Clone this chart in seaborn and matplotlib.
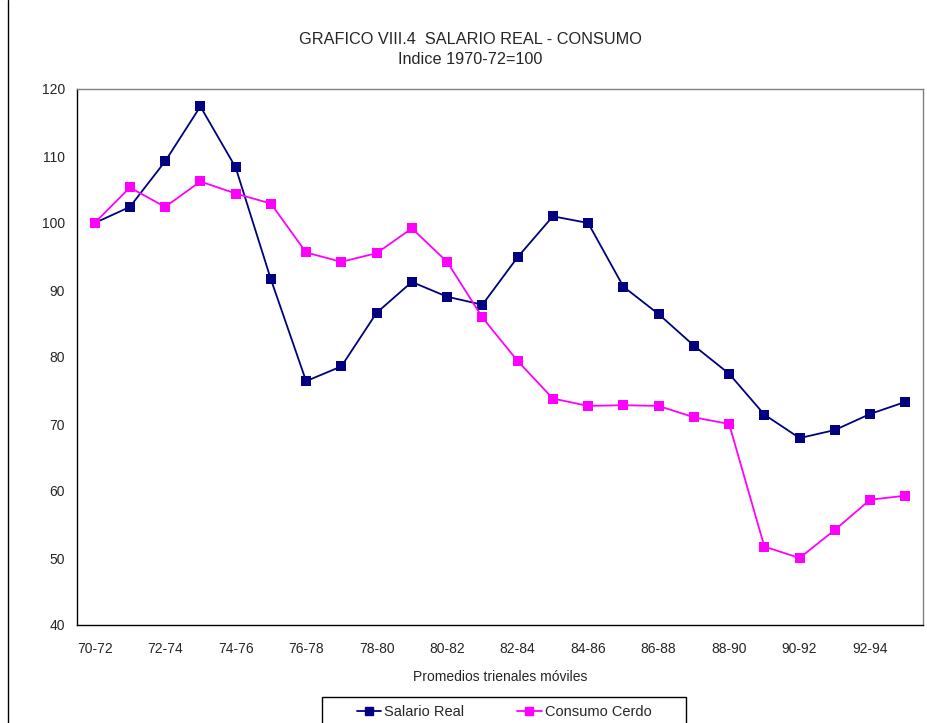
import pandas as pd
import matplotlib.pyplot as plt
import matplotlib.ticker as mticker
import seaborn as sns

# Data
periodos = ["70-72", "71-73", "72-74", "73-75", "74-76", "75-77", "76-78", "77-79",
            "78-80", "79-81", "80-82", "81-83", "82-84", "83-85", "84-86", "85-87",
            "86-88", "87-89", "88-90", "89-91", "90-92", "91-93", "92-94", "93-95"]
salario_real = [100.0, 102.4, 109.2, 117.4, 108.3, 91.6, 76.4, 78.6,
                86.6, 91.2, 89.0, 87.8, 94.9, 101.0, 100.0, 90.5,
                86.4, 81.7, 77.5, 71.4, 67.9, 69.1, 71.5, 73.3]
consumo_cerdo = [100.0, 105.3, 102.4, 106.2, 104.4, 102.9, 95.6, 94.2,
                 95.5, 99.2, 94.2, 85.9, 79.4, 73.8, 72.7, 72.8,
                 72.7, 71.0, 70.0, 51.7, 50.0, 54.2, 58.7, 59.3]
series_names = ["Salario Real", "Consumo Cerdo"]
colors = ["#000080", "#FF00FF"]

df = pd.DataFrame({"pos": list(range(len(periodos))) * 2,
                   "valor": salario_real + consumo_cerdo,
                   "serie": [series_names[0]] * len(periodos) + [series_names[1]] * len(periodos)})

sns.set_style("white")
plt.rcParams['font.family'] = ['Liberation Sans', 'DejaVu Sans']

fig = plt.figure(figsize=(9.28, 7.23), dpi=100)
ax = fig.add_axes([77 / 928, 1 - 625 / 723, 846 / 928, 536 / 723])

sns.lineplot(data=df, x="pos", y="valor", hue="serie", palette=colors,
             marker="s", markersize=7, markeredgewidth=0, linewidth=1.3,
             ax=ax, legend=False)

ax.set_xlim(-0.5, len(periodos) - 0.5)
ax.set_ylim(40, 120)
ax.yaxis.set_major_locator(mticker.MultipleLocator(10))

# Excel-like category axis: ticks between categories, labels every other one
ax.set_xticks([i - 0.5 for i in range(len(periodos) + 1)])
ax.set_xticklabels([])
ax.set_xticks(list(range(0, len(periodos), 2)), minor=True)
ax.set_xticklabels(periodos[::2], minor=True)
ax.tick_params(axis="x", which="major", length=5, width=1, color="black", direction="out")
ax.tick_params(axis="x", which="minor", length=0, pad=12, labelsize=10)
ax.tick_params(axis="y", length=5, width=1, color="black", direction="out", labelsize=10)
ax.set_xlabel("Promedios trienales móviles", fontsize=10, labelpad=10)
ax.set_ylabel("")

for side in ["left", "bottom"]:
    ax.spines[side].set_color("black")
    ax.spines[side].set_linewidth(1)
for side in ["top", "right"]:
    ax.spines[side].set_color("#808080")
    ax.spines[side].set_linewidth(1)

fig.text(470 / 928, 1 - 40 / 723, "GRAFICO VIII.4  SALARIO REAL - CONSUMO",
         ha="center", va="center", fontsize=11.7)
fig.text(470 / 928, 1 - 59 / 723, "Indice 1970-72=100",
         ha="center", va="center", fontsize=11.7)

# legend: entries without frame, Excel-style box drawn separately (cut off at bottom)
handles = [plt.Line2D([], [], color=c, marker="s", markersize=6, linewidth=1.3) for c in colors]
fig.legend(handles, series_names, loc="upper center", ncol=2,
           bbox_to_anchor=(504 / 928, 1 - 697 / 723), fontsize=10.5,
           frameon=False, handlelength=1.7, handletextpad=0.2, columnspacing=3.6,
           borderpad=0.55, borderaxespad=0)
fig.add_artist(plt.Rectangle((322 / 928, -0.02), (686 - 322) / 928, 0.02 + 26 / 723,
                             fill=False, edgecolor="black", linewidth=1,
                             transform=fig.transFigure))

# outer chart border (left edge visible in reference)
fig.add_artist(plt.Line2D([8 / 928, 8 / 928], [0, 1], color="black", linewidth=1,
                          transform=fig.transFigure))

fig.savefig("out.png", dpi=100)
